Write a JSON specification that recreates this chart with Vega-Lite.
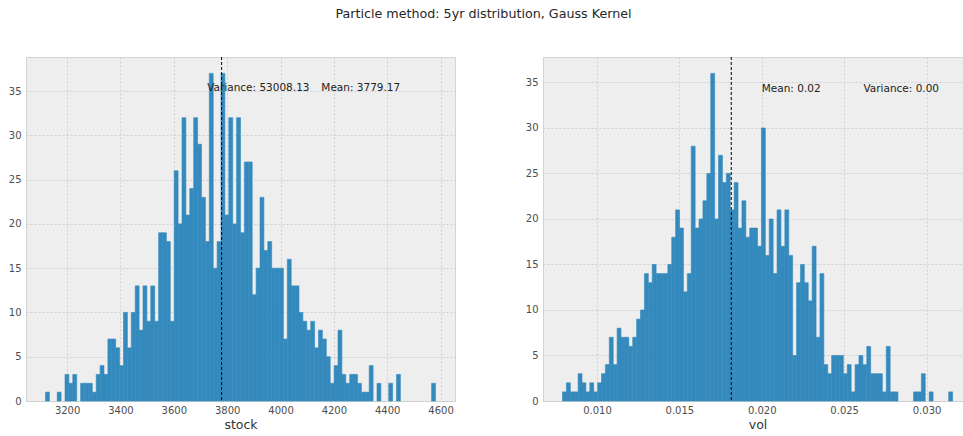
{
  "$schema": "https://vega.github.io/schema/vega-lite/v6.json",
  "padding": {"left": 0, "top": 8, "right": 0, "bottom": 0},
  "background": "white",
  "title": {"text": "Particle method: 5yr distribution, Gauss Kernel", "anchor": "middle", "fontSize": 12.7, "fontWeight": "normal", "font": "DejaVu Sans", "color": "#262626", "offset": 35},
  "datasets": {
    "stock": [
      {"lo": 3119.0, "hi": 3133.6, "count": 1},
      {"lo": 3162.9, "hi": 3177.5, "count": 1},
      {"lo": 3192.1, "hi": 3206.7, "count": 3},
      {"lo": 3206.7, "hi": 3221.3, "count": 2},
      {"lo": 3221.3, "hi": 3236.0, "count": 3},
      {"lo": 3250.6, "hi": 3265.2, "count": 2},
      {"lo": 3265.2, "hi": 3279.8, "count": 2},
      {"lo": 3279.8, "hi": 3294.4, "count": 2},
      {"lo": 3294.4, "hi": 3309.1, "count": 1},
      {"lo": 3309.1, "hi": 3323.7, "count": 3},
      {"lo": 3323.7, "hi": 3338.3, "count": 4},
      {"lo": 3338.3, "hi": 3352.9, "count": 3},
      {"lo": 3352.9, "hi": 3367.5, "count": 7},
      {"lo": 3367.5, "hi": 3382.2, "count": 7},
      {"lo": 3382.2, "hi": 3396.8, "count": 6},
      {"lo": 3396.8, "hi": 3411.4, "count": 4},
      {"lo": 3411.4, "hi": 3426.0, "count": 10},
      {"lo": 3426.0, "hi": 3440.6, "count": 6},
      {"lo": 3440.6, "hi": 3455.3, "count": 10},
      {"lo": 3455.3, "hi": 3469.9, "count": 13},
      {"lo": 3469.9, "hi": 3484.5, "count": 8},
      {"lo": 3484.5, "hi": 3499.1, "count": 13},
      {"lo": 3499.1, "hi": 3513.7, "count": 9},
      {"lo": 3513.7, "hi": 3528.4, "count": 13},
      {"lo": 3528.4, "hi": 3543.0, "count": 9},
      {"lo": 3543.0, "hi": 3557.6, "count": 19},
      {"lo": 3557.6, "hi": 3572.2, "count": 19},
      {"lo": 3572.2, "hi": 3586.8, "count": 18},
      {"lo": 3586.8, "hi": 3601.5, "count": 9},
      {"lo": 3601.5, "hi": 3616.1, "count": 26},
      {"lo": 3616.1, "hi": 3630.7, "count": 20},
      {"lo": 3630.7, "hi": 3645.3, "count": 32},
      {"lo": 3645.3, "hi": 3659.9, "count": 21},
      {"lo": 3659.9, "hi": 3674.6, "count": 24},
      {"lo": 3674.6, "hi": 3689.2, "count": 32},
      {"lo": 3689.2, "hi": 3703.8, "count": 29},
      {"lo": 3703.8, "hi": 3718.4, "count": 23},
      {"lo": 3718.4, "hi": 3733.0, "count": 18},
      {"lo": 3733.0, "hi": 3747.7, "count": 37},
      {"lo": 3747.7, "hi": 3762.3, "count": 15},
      {"lo": 3762.3, "hi": 3776.9, "count": 18},
      {"lo": 3776.9, "hi": 3791.5, "count": 37},
      {"lo": 3791.5, "hi": 3806.1, "count": 21},
      {"lo": 3806.1, "hi": 3820.8, "count": 32},
      {"lo": 3820.8, "hi": 3835.4, "count": 20},
      {"lo": 3835.4, "hi": 3850.0, "count": 32},
      {"lo": 3850.0, "hi": 3864.6, "count": 19},
      {"lo": 3864.6, "hi": 3879.2, "count": 27},
      {"lo": 3879.2, "hi": 3893.9, "count": 27},
      {"lo": 3893.9, "hi": 3908.5, "count": 12},
      {"lo": 3908.5, "hi": 3923.1, "count": 15},
      {"lo": 3923.1, "hi": 3937.7, "count": 23},
      {"lo": 3937.7, "hi": 3952.3, "count": 17},
      {"lo": 3952.3, "hi": 3967.0, "count": 18},
      {"lo": 3967.0, "hi": 3981.6, "count": 15},
      {"lo": 3981.6, "hi": 3996.2, "count": 15},
      {"lo": 3996.2, "hi": 4010.8, "count": 15},
      {"lo": 4010.8, "hi": 4025.4, "count": 7},
      {"lo": 4025.4, "hi": 4040.1, "count": 16},
      {"lo": 4040.1, "hi": 4054.7, "count": 13},
      {"lo": 4054.7, "hi": 4069.3, "count": 13},
      {"lo": 4069.3, "hi": 4083.9, "count": 10},
      {"lo": 4083.9, "hi": 4098.5, "count": 9},
      {"lo": 4098.5, "hi": 4113.2, "count": 8},
      {"lo": 4113.2, "hi": 4127.8, "count": 9},
      {"lo": 4127.8, "hi": 4142.4, "count": 6},
      {"lo": 4142.4, "hi": 4157.0, "count": 8},
      {"lo": 4157.0, "hi": 4171.6, "count": 7},
      {"lo": 4171.6, "hi": 4186.3, "count": 5},
      {"lo": 4186.3, "hi": 4200.9, "count": 2},
      {"lo": 4200.9, "hi": 4215.5, "count": 4},
      {"lo": 4215.5, "hi": 4230.1, "count": 8},
      {"lo": 4230.1, "hi": 4244.7, "count": 3},
      {"lo": 4244.7, "hi": 4259.4, "count": 2},
      {"lo": 4259.4, "hi": 4274.0, "count": 3},
      {"lo": 4274.0, "hi": 4288.6, "count": 3},
      {"lo": 4288.6, "hi": 4303.2, "count": 2},
      {"lo": 4303.2, "hi": 4317.8, "count": 1},
      {"lo": 4317.8, "hi": 4332.5, "count": 1},
      {"lo": 4332.5, "hi": 4347.1, "count": 4},
      {"lo": 4361.7, "hi": 4376.3, "count": 2},
      {"lo": 4405.6, "hi": 4420.2, "count": 2},
      {"lo": 4434.8, "hi": 4449.4, "count": 3},
      {"lo": 4566.4, "hi": 4581.0, "count": 2}
    ],
    "vol": [
      {"lo": 0.007910, "hi": 0.008147, "count": 1},
      {"lo": 0.008147, "hi": 0.008383, "count": 2},
      {"lo": 0.008383, "hi": 0.008620, "count": 1},
      {"lo": 0.008620, "hi": 0.008857, "count": 1},
      {"lo": 0.008857, "hi": 0.009094, "count": 3},
      {"lo": 0.009094, "hi": 0.009330, "count": 2},
      {"lo": 0.009330, "hi": 0.009567, "count": 1},
      {"lo": 0.009567, "hi": 0.009804, "count": 2},
      {"lo": 0.009804, "hi": 0.010040, "count": 1},
      {"lo": 0.010040, "hi": 0.010277, "count": 2},
      {"lo": 0.010277, "hi": 0.010514, "count": 3},
      {"lo": 0.010514, "hi": 0.010750, "count": 4},
      {"lo": 0.010750, "hi": 0.010987, "count": 7},
      {"lo": 0.010987, "hi": 0.011224, "count": 4},
      {"lo": 0.011224, "hi": 0.011461, "count": 8},
      {"lo": 0.011461, "hi": 0.011697, "count": 7},
      {"lo": 0.011697, "hi": 0.011934, "count": 7},
      {"lo": 0.011934, "hi": 0.012171, "count": 6},
      {"lo": 0.012171, "hi": 0.012407, "count": 7},
      {"lo": 0.012407, "hi": 0.012644, "count": 9},
      {"lo": 0.012644, "hi": 0.012881, "count": 10},
      {"lo": 0.012881, "hi": 0.013117, "count": 14},
      {"lo": 0.013117, "hi": 0.013354, "count": 13},
      {"lo": 0.013354, "hi": 0.013591, "count": 15},
      {"lo": 0.013591, "hi": 0.013828, "count": 14},
      {"lo": 0.013828, "hi": 0.014064, "count": 14},
      {"lo": 0.014064, "hi": 0.014301, "count": 14},
      {"lo": 0.014301, "hi": 0.014538, "count": 15},
      {"lo": 0.014538, "hi": 0.014774, "count": 18},
      {"lo": 0.014774, "hi": 0.015011, "count": 21},
      {"lo": 0.015011, "hi": 0.015248, "count": 19},
      {"lo": 0.015248, "hi": 0.015484, "count": 12},
      {"lo": 0.015484, "hi": 0.015721, "count": 14},
      {"lo": 0.015721, "hi": 0.015958, "count": 28},
      {"lo": 0.015958, "hi": 0.016195, "count": 19},
      {"lo": 0.016195, "hi": 0.016431, "count": 20},
      {"lo": 0.016431, "hi": 0.016668, "count": 22},
      {"lo": 0.016668, "hi": 0.016905, "count": 25},
      {"lo": 0.016905, "hi": 0.017141, "count": 36},
      {"lo": 0.017141, "hi": 0.017378, "count": 20},
      {"lo": 0.017378, "hi": 0.017615, "count": 27},
      {"lo": 0.017615, "hi": 0.017851, "count": 24},
      {"lo": 0.017851, "hi": 0.018088, "count": 25},
      {"lo": 0.018088, "hi": 0.018325, "count": 21},
      {"lo": 0.018325, "hi": 0.018562, "count": 24},
      {"lo": 0.018562, "hi": 0.018798, "count": 19},
      {"lo": 0.018798, "hi": 0.019035, "count": 22},
      {"lo": 0.019035, "hi": 0.019272, "count": 18},
      {"lo": 0.019272, "hi": 0.019508, "count": 19},
      {"lo": 0.019508, "hi": 0.019745, "count": 19},
      {"lo": 0.019745, "hi": 0.019982, "count": 17},
      {"lo": 0.019982, "hi": 0.020218, "count": 30},
      {"lo": 0.020218, "hi": 0.020455, "count": 16},
      {"lo": 0.020455, "hi": 0.020692, "count": 20},
      {"lo": 0.020692, "hi": 0.020929, "count": 14},
      {"lo": 0.020929, "hi": 0.021165, "count": 21},
      {"lo": 0.021165, "hi": 0.021402, "count": 17},
      {"lo": 0.021402, "hi": 0.021639, "count": 21},
      {"lo": 0.021639, "hi": 0.021875, "count": 16},
      {"lo": 0.021875, "hi": 0.022112, "count": 5},
      {"lo": 0.022112, "hi": 0.022349, "count": 13},
      {"lo": 0.022349, "hi": 0.022585, "count": 15},
      {"lo": 0.022585, "hi": 0.022822, "count": 13},
      {"lo": 0.022822, "hi": 0.023059, "count": 11},
      {"lo": 0.023059, "hi": 0.023296, "count": 17},
      {"lo": 0.023296, "hi": 0.023532, "count": 7},
      {"lo": 0.023532, "hi": 0.023769, "count": 14},
      {"lo": 0.023769, "hi": 0.024006, "count": 4},
      {"lo": 0.024006, "hi": 0.024242, "count": 3},
      {"lo": 0.024242, "hi": 0.024479, "count": 5},
      {"lo": 0.024479, "hi": 0.024716, "count": 5},
      {"lo": 0.024716, "hi": 0.024952, "count": 5},
      {"lo": 0.024952, "hi": 0.025189, "count": 3},
      {"lo": 0.025189, "hi": 0.025426, "count": 4},
      {"lo": 0.025426, "hi": 0.025663, "count": 1},
      {"lo": 0.025663, "hi": 0.025899, "count": 4},
      {"lo": 0.025899, "hi": 0.026136, "count": 5},
      {"lo": 0.026136, "hi": 0.026373, "count": 4},
      {"lo": 0.026373, "hi": 0.026609, "count": 6},
      {"lo": 0.026609, "hi": 0.026846, "count": 3},
      {"lo": 0.026846, "hi": 0.027083, "count": 3},
      {"lo": 0.027083, "hi": 0.027319, "count": 3},
      {"lo": 0.027319, "hi": 0.027556, "count": 1},
      {"lo": 0.027556, "hi": 0.027793, "count": 6},
      {"lo": 0.027793, "hi": 0.028030, "count": 1},
      {"lo": 0.028030, "hi": 0.028266, "count": 1},
      {"lo": 0.029213, "hi": 0.029450, "count": 1},
      {"lo": 0.029450, "hi": 0.029686, "count": 1},
      {"lo": 0.029686, "hi": 0.029923, "count": 3},
      {"lo": 0.030160, "hi": 0.030397, "count": 1},
      {"lo": 0.031343, "hi": 0.031580, "count": 1}
    ]
  },
  "spacing": 61,
  "hconcat": [
    {
      "width": 429,
      "height": 344,
      "layer": [
        {
          "data": {"name": "stock"},
          "mark": {"type": "bar", "color": "#348ABD", "stroke": "#348ABD", "strokeWidth": 0.6},
          "encoding": {
            "x": {"field": "lo", "type": "quantitative", "scale": {"domain": [3045.9, 4654.1], "nice": false, "zero": false}, "axis": {"title": "stock", "format": "d", "values": [3200, 3400, 3600, 3800, 4000, 4200, 4400, 4600]}},
            "x2": {"field": "hi"},
            "y": {"field": "count", "type": "quantitative", "scale": {"domain": [0, 38.85], "nice": false}, "axis": {"title": null, "values": [0, 5, 10, 15, 20, 25, 30, 35]}},
            "y2": {"datum": 0}
          }
        },
        {
          "data": {"values": [{"mean": 3779.17}]},
          "mark": {"type": "rule", "color": "#000000", "strokeDash": [3, 2], "strokeWidth": 1},
          "encoding": {"x": {"field": "mean", "type": "quantitative"}}
        },
        {
          "data": {"values": [
            {"px": 3725, "py": 35, "label": "Variance: 53008.13"},
            {"px": 4153, "py": 35, "label": "Mean: 3779.17"}
          ]},
          "mark": {"type": "text", "align": "left", "baseline": "alphabetic", "fontSize": 10.5, "font": "DejaVu Sans", "color": "#222222"},
          "encoding": {
            "x": {"field": "px", "type": "quantitative"},
            "y": {"field": "py", "type": "quantitative"},
            "text": {"field": "label"}
          }
        }
      ]
    },
    {
      "width": 423,
      "height": 344,
      "layer": [
        {
          "data": {"name": "vol"},
          "mark": {"type": "bar", "color": "#348ABD", "stroke": "#348ABD", "strokeWidth": 0.6},
          "encoding": {
            "x": {"field": "lo", "type": "quantitative", "scale": {"domain": [0.0067265, 0.032394], "nice": false, "zero": false}, "axis": {"title": "vol", "titleX": 214.5, "values": [0.01, 0.015, 0.02, 0.025, 0.03], "format": ".3f"}},
            "x2": {"field": "hi"},
            "y": {"field": "count", "type": "quantitative", "scale": {"domain": [0, 37.8], "nice": false}, "axis": {"title": null, "values": [0, 5, 10, 15, 20, 25, 30, 35]}},
            "y2": {"datum": 0}
          }
        },
        {
          "data": {"values": [{"mean": 0.01815}]},
          "mark": {"type": "rule", "color": "#000000", "strokeDash": [3, 2], "strokeWidth": 1},
          "encoding": {"x": {"field": "mean", "type": "quantitative"}}
        },
        {
          "data": {"values": [
            {"px": 0.0200, "py": 34, "label": "Mean: 0.02"},
            {"px": 0.02617, "py": 34, "label": "Variance: 0.00"}
          ]},
          "mark": {"type": "text", "align": "left", "baseline": "alphabetic", "fontSize": 10.5, "font": "DejaVu Sans", "color": "#222222"},
          "encoding": {
            "x": {"field": "px", "type": "quantitative"},
            "y": {"field": "py", "type": "quantitative"},
            "text": {"field": "label"}
          }
        }
      ]
    }
  ],
  "config": {
    "font": "DejaVu Sans",
    "view": {"fill": "#eeeeee", "stroke": "#d4d4d4", "strokeWidth": 1},
    "axis": {
      "grid": true,
      "gridColor": "#c6c6c6",
      "gridDash": [2, 2],
      "gridWidth": 0.8,
      "domain": false,
      "ticks": false,
      "labelFont": "DejaVu Sans",
      "labelFontSize": 10,
      "labelColor": "#4d4d4d",
      "labelFlush": false,
      "labelOverlap": false,
      "titleFont": "DejaVu Sans",
      "titleFontSize": 12.5,
      "titleFontWeight": "normal",
      "titleColor": "#333333"
    },
    "axisX": {"labelPadding": 4, "titlePadding": 3},
    "axisY": {"labelPadding": 5, "minExtent": 25, "maxExtent": 25}
  }
}
